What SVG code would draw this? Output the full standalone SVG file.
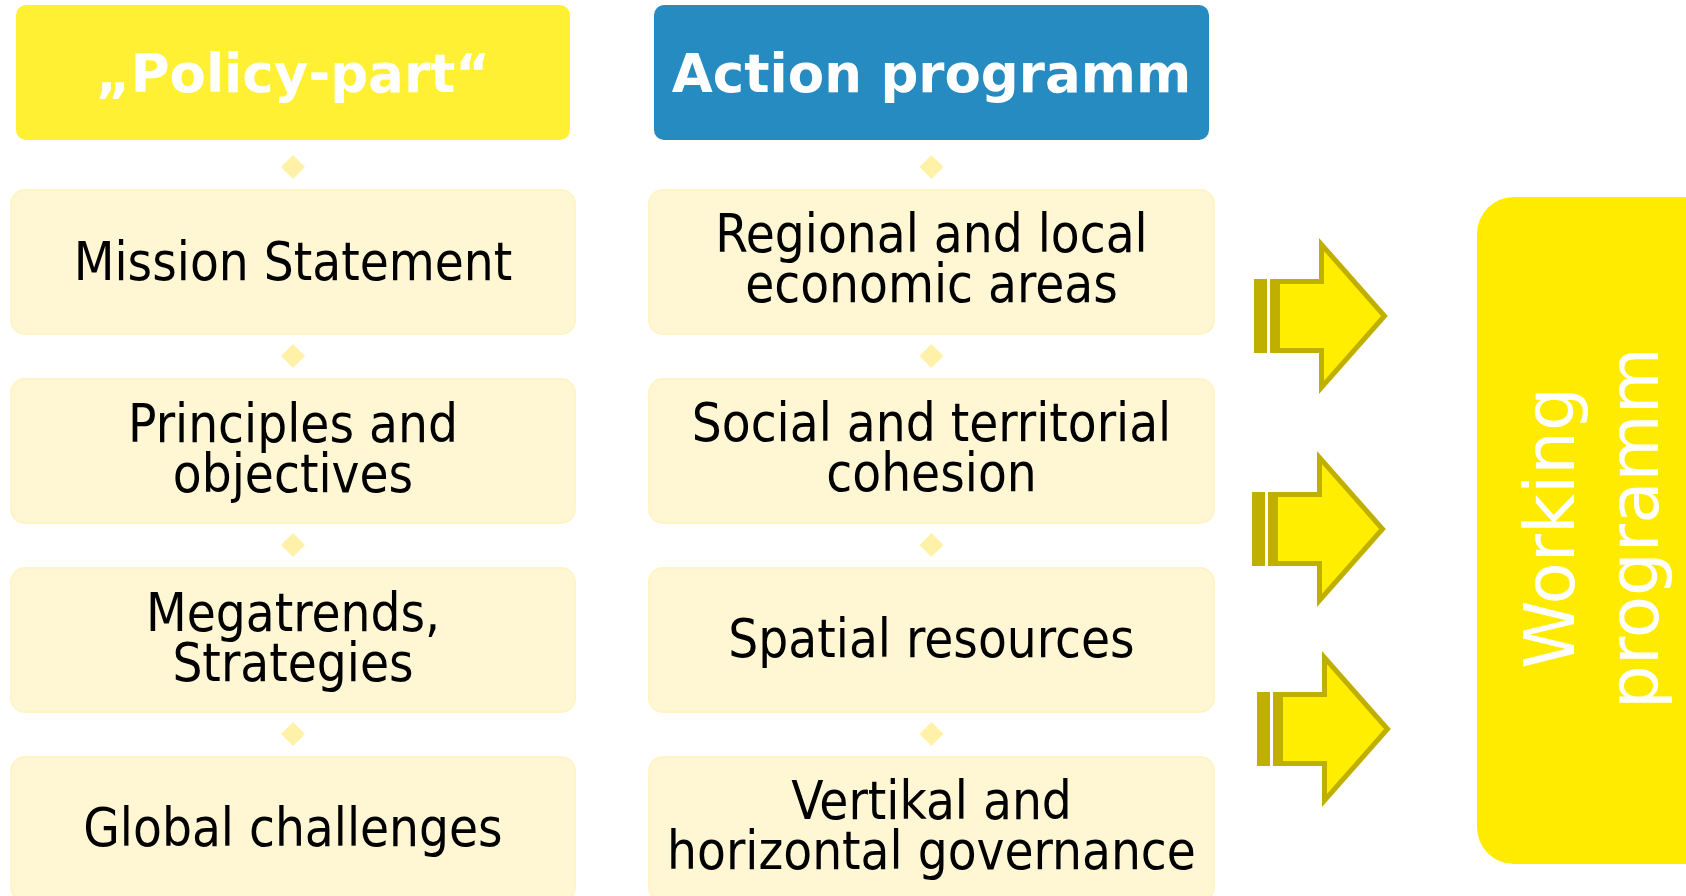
<svg xmlns="http://www.w3.org/2000/svg" xmlns:xlink="http://www.w3.org/1999/xlink" width="1686" height="896" viewBox="0 0 1686 896">
  <style>
    .hdr-text { font-family: "DejaVu Sans", Verdana, sans-serif; font-weight: bold; font-size: 53px; fill: #ffffff; text-anchor: middle; }
    .item { fill: #FFF7D3; stroke: #FFF4C6; stroke-width: 2; }
    .item-text { font-family: "DejaVu Sans Condensed", "DejaVu Sans", sans-serif; font-stretch: condensed; font-size: 52.5px; fill: #000000; text-anchor: middle; }
    .link { fill: #FFF2A8; }
    .wp-text { font-family: "DejaVu Sans", Verdana, sans-serif; font-size: 69px; fill: #ffffff; text-anchor: middle; }
    .arrow-body { fill: #FFEE00; stroke: #BFB000; stroke-width: 5; stroke-linejoin: miter; }
    .arrow-stripe { fill: #BFB000; }
  </style>
  <defs>
    <!-- striped block arrow, origin at left edge / vertical middle -->
    <g id="striped-arrow">
      <rect class="arrow-stripe" x="0" y="-37" width="13" height="74"/>
      <rect class="arrow-stripe" x="16" y="-37" width="8" height="74"/>
      <path class="arrow-body" d="M23.5,-34.5 H67.5 V-71.5 L130.5,0 L67.5,71.5 V34.5 H23.5 Z"/>
    </g>
    <path id="diamond" d="M0,-12 L12,0 L0,12 L-12,0 Z"/>
  </defs>

  <!-- column headers -->
  <g id="policy-part">
    <rect x="16" y="5" width="554" height="135" rx="10" fill="#FFF033"/>
    <text class="hdr-text" x="293" y="92">„Policy-part“</text>
  </g>
  <g id="action-programm">
    <rect x="654" y="5" width="555" height="135" rx="10" fill="#268BC0"/>
    <text class="hdr-text" x="931.5" y="92">Action programm</text>
  </g>

  <!-- policy column -->
  <g id="mission-statement">
    <rect class="item" x="11" y="190" width="564" height="144" rx="14"/>
    <text class="item-text" x="293" y="280">Mission Statement</text>
  </g>
  <g id="principles-objectives">
    <rect class="item" x="11" y="379" width="564" height="144" rx="14"/>
    <text class="item-text" x="293" y="442">Principles and</text>
    <text class="item-text" x="293" y="492">objectives</text>
  </g>
  <g id="megatrends-strategies">
    <rect class="item" x="11" y="568" width="564" height="144" rx="14"/>
    <text class="item-text" x="293" y="631">Megatrends,</text>
    <text class="item-text" x="293" y="681">Strategies</text>
  </g>
  <g id="global-challenges">
    <rect class="item" x="11" y="757" width="564" height="144" rx="14"/>
    <text class="item-text" x="293" y="846">Global challenges</text>
  </g>

  <!-- action column -->
  <g id="economic-areas">
    <rect class="item" x="649" y="190" width="565" height="144" rx="14"/>
    <text class="item-text" x="931.5" y="252">Regional and local</text>
    <text class="item-text" x="931.5" y="302">economic areas</text>
  </g>
  <g id="territorial-cohesion">
    <rect class="item" x="649" y="379" width="565" height="144" rx="14"/>
    <text class="item-text" x="931.5" y="441">Social and territorial</text>
    <text class="item-text" x="931.5" y="491">cohesion</text>
  </g>
  <g id="spatial-resources">
    <rect class="item" x="649" y="568" width="565" height="144" rx="14"/>
    <text class="item-text" x="931.5" y="657">Spatial resources</text>
  </g>
  <g id="governance">
    <rect class="item" x="649" y="757" width="565" height="144" rx="14"/>
    <text class="item-text" x="931.5" y="819">Vertikal and</text>
    <text class="item-text" x="931.5" y="869">horizontal governance</text>
  </g>

  <!-- working programm -->
  <g id="working-programm">
    <rect x="1477" y="197" width="260" height="667" rx="37" fill="#FFEB00"/>
    <text class="wp-text" transform="translate(1574,528) rotate(-90)">Working</text>
    <text class="wp-text" transform="translate(1658,528) rotate(-90)">programm</text>
  </g>

  <!-- connectors -->
  <g id="connectors">
    <use xlink:href="#diamond" class="link" x="293" y="167"/>
    <use xlink:href="#diamond" class="link" x="293" y="356"/>
    <use xlink:href="#diamond" class="link" x="293" y="545"/>
    <use xlink:href="#diamond" class="link" x="293" y="734"/>
    <use xlink:href="#diamond" class="link" x="931.5" y="167"/>
    <use xlink:href="#diamond" class="link" x="931.5" y="356"/>
    <use xlink:href="#diamond" class="link" x="931.5" y="545"/>
    <use xlink:href="#diamond" class="link" x="931.5" y="734"/>
    <use xlink:href="#striped-arrow" x="1254" y="316"/>
    <use xlink:href="#striped-arrow" x="1252" y="529"/>
    <use xlink:href="#striped-arrow" x="1257" y="729"/>
  </g>
</svg>
